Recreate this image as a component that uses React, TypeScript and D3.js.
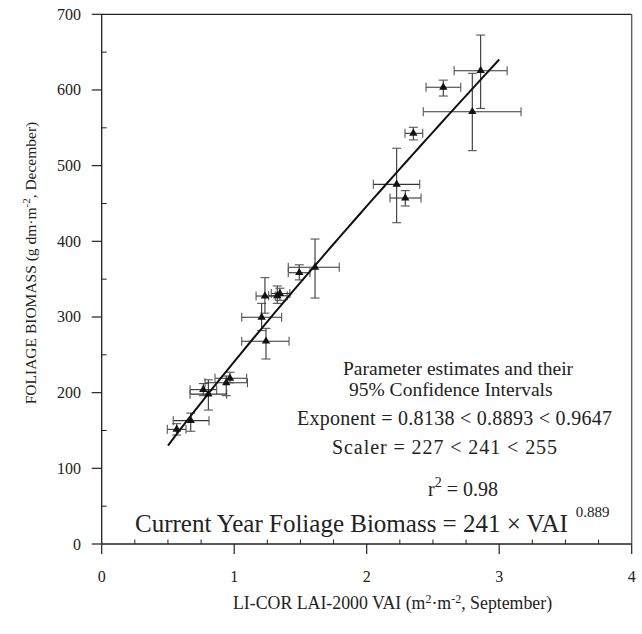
import React from "react";
import * as d3 from "d3";

// ---- data ----
const vai = [0.566, 0.672, 0.767, 0.805, 0.94, 0.968, 1.24, 1.207, 1.232, 1.325, 1.345, 1.491, 1.61, 2.226, 2.291, 2.352, 2.578, 2.797, 2.86];
const vaiLo = [0.495, 0.54, 0.667, 0.667, 0.78, 0.855, 1.057, 1.057, 1.165, 1.26, 1.28, 1.408, 1.408, 2.05, 2.176, 2.289, 2.448, 2.427, 2.66];
const vaiHi = [0.636, 0.81, 0.868, 0.943, 1.1, 1.094, 1.414, 1.358, 1.31, 1.4, 1.42, 1.572, 1.793, 2.4, 2.41, 2.423, 2.71, 3.165, 3.06];
const biomass = [151.5, 163, 204, 198, 213, 219, 268, 299.6, 327.7, 328, 331, 358.5, 365.7, 475.3, 457.2, 542.7, 603.5, 571.3, 625.5];
const biomassLo = [144, 149, 196, 177, 196, 213, 244.5, 282, 305, 318, 322, 349, 325, 424.6, 446.7, 534, 592, 519.8, 575.6];
const biomassHi = [159, 173, 212, 217, 222, 227, 285, 318, 352, 341, 338, 369, 403, 523, 467, 550.7, 613, 622, 672.6];

const fitScaler = 241;
const fitExponent = 0.8893;
const fitRange = [0.5, 3.0];

const xTicks = [0, 1, 2, 3, 4];
const xMinorTicks = [0.25, 0.5, 0.75, 1.25, 1.5, 1.75, 2.25, 2.5, 2.75, 3.25, 3.5, 3.75];
const yTicks = [0, 100, 200, 300, 400, 500, 600, 700];
const yMinorTicks = [50, 150, 250, 350, 450, 550, 650];

const W = 642;
const H = 634;
const FONT = "'Liberation Serif', 'Times New Roman', serif";

export default function App() {
  const x = d3.scaleLinear().domain([0, 4]).range([101.7, 631.7]);
  const y = d3.scaleLinear().domain([0, 700]).range([544, 14.3]);

  const fitPts = d3.range(fitRange[0], fitRange[1] + 1e-9, 0.05).map((v) => [v, fitScaler * Math.pow(v, fitExponent)] as [number, number]);
  const line = d3.line<[number, number]>().x((d) => x(d[0])).y((d) => y(d[1]));
  const tri = d3.symbol().type(d3.symbolTriangle).size(30)();

  const cap = 4.5;
  const x0 = x(0), x4 = x(4), y0 = y(0), y7 = y(700);

  return (
    <svg width={W} height={H} style={{ position: "absolute", left: 0, top: 0, display: "block", background: "#fff" }} fontFamily={FONT}>
      {/* frame */}
      <line x1={x0} x2={x4} y1={y7} y2={y7} stroke="#222" strokeWidth={1.3} />
      <line x1={x4} x2={x4} y1={y7} y2={y0} stroke="#555" strokeWidth={1.3} />
      <line x1={x0} x2={x4} y1={y0} y2={y0} stroke="#222" strokeWidth={1.3} />
      <line x1={x0} x2={x0} y1={y7} y2={y0} stroke="#222" strokeWidth={1.3} />

      {/* x ticks */}
      {xTicks.map((t) => (
        <g key={"xt" + t}>
          <line x1={x(t)} x2={x(t)} y1={y0} y2={y0 + 10} stroke="#222" strokeWidth={1.2} />
          <text x={x(t)} y={582} textAnchor="middle" fontSize={16} fill="#222">{t}</text>
        </g>
      ))}
      {xMinorTicks.map((t) => (
        <line key={"xm" + t} x1={x(t)} x2={x(t)} y1={y0} y2={y0 - 4.5} stroke="#222" strokeWidth={1} />
      ))}
      {/* y ticks */}
      {yTicks.map((t) => (
        <g key={"yt" + t}>
          <line x1={x0 - 10} x2={x0} y1={y(t)} y2={y(t)} stroke="#222" strokeWidth={1.2} />
          <text x={81} y={y(t) + 5.5} textAnchor="end" fontSize={16} fill="#222">{t}</text>
        </g>
      ))}
      {yMinorTicks.map((t) => (
        <line key={"ym" + t} x1={x0} x2={x0 + 5} y1={y(t)} y2={y(t)} stroke="#222" strokeWidth={1} />
      ))}

      {/* axis titles */}
      <text x={233} y={609} fontSize={17.8} fill="#222">
        LI-COR LAI-2000 VAI (m<tspan dy={-6} fontSize={12}>2</tspan><tspan dy={6}>·m</tspan><tspan dy={-6} fontSize={12}>-2</tspan><tspan dy={6}>, September)</tspan>
      </text>
      <text transform={`translate(36,263) rotate(-90)`} textAnchor="middle" fontSize={15.5} fill="#222">
        FOLIAGE BIOMASS (g dm·m<tspan dy={-6} fontSize={11}>-2</tspan><tspan dy={6}>, December)</tspan>
      </text>

      {/* error bars */}
      {vai.map((v, i) => (
        <g key={"e" + i} strokeWidth={1.1}>
          <line x1={x(vaiLo[i])} x2={x(vaiHi[i])} y1={y(biomass[i])} y2={y(biomass[i])} stroke="#333" />
          <line x1={x(vaiLo[i])} x2={x(vaiLo[i])} y1={y(biomass[i]) - cap} y2={y(biomass[i]) + cap} stroke="#555" />
          <line x1={x(vaiHi[i])} x2={x(vaiHi[i])} y1={y(biomass[i]) - cap} y2={y(biomass[i]) + cap} stroke="#555" />
          <line x1={x(v)} x2={x(v)} y1={y(biomassLo[i])} y2={y(biomassHi[i])} stroke="#333" />
          <line x1={x(v) - cap} x2={x(v) + cap} y1={y(biomassLo[i])} y2={y(biomassLo[i])} stroke="#555" />
          <line x1={x(v) - cap} x2={x(v) + cap} y1={y(biomassHi[i])} y2={y(biomassHi[i])} stroke="#555" />
        </g>
      ))}

      {/* fit line */}
      <path d={line(fitPts) || ""} fill="none" stroke="#111" strokeWidth={2} />

      {/* points */}
      {vai.map((v, i) => (
        <path key={"p" + i} d={tri || ""} transform={`translate(${x(v)},${y(biomass[i])})`} fill="#111" />
      ))}

      {/* annotation */}
      <g fill="#222">
        <text x={343} y={375} fontSize={19.5}>Parameter estimates and their</text>
        <text x={349} y={396} fontSize={19.5}>95% Confidence Intervals</text>
        <text x={297} y={425} fontSize={20} textLength={315} lengthAdjust="spacing">Exponent = 0.8138 &lt; 0.8893 &lt; 0.9647</text>
        <text x={332} y={454} fontSize={20} textLength={225} lengthAdjust="spacing">Scaler = 227 &lt; 241 &lt; 255</text>
        <text x={428} y={496} fontSize={20}>r<tspan dy={-9} fontSize={14}>2</tspan><tspan dy={9}> = 0.98</tspan></text>
      </g>
      <text x={135} y={532} fontSize={25} fill="#222">
        Current Year Foliage Biomass = 241 × VAI<tspan dx={8} dy={-15} fontSize={15}>0.889</tspan>
      </text>
    </svg>
  );
}
